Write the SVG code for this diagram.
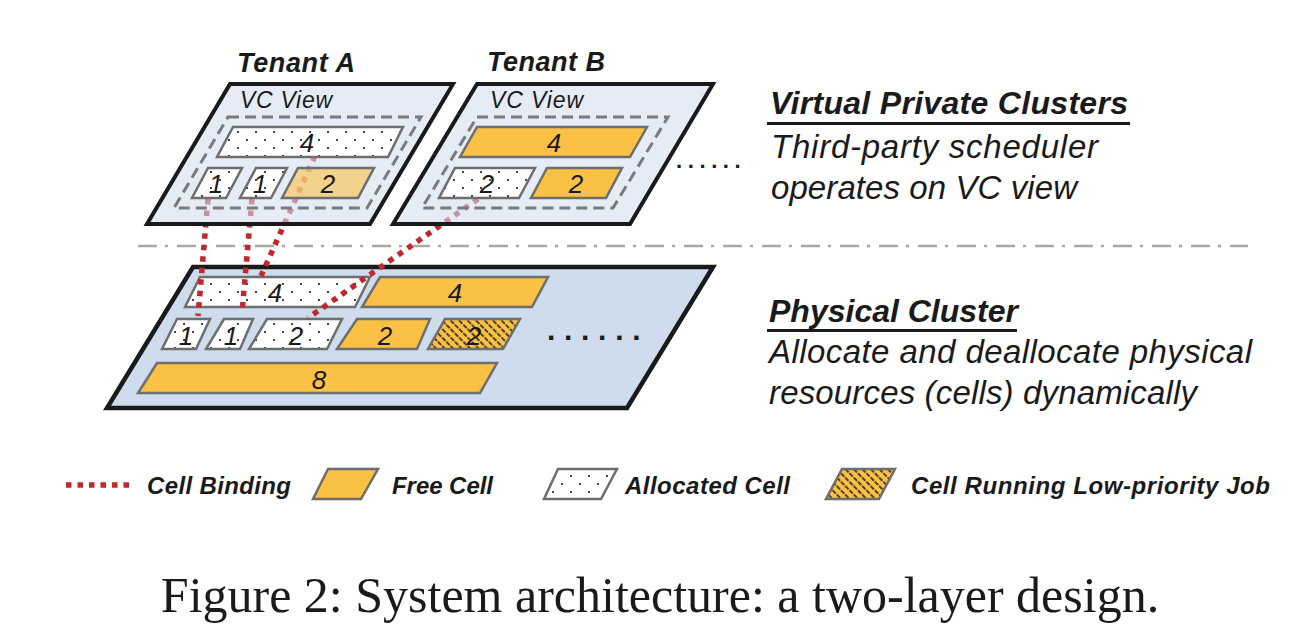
<svg xmlns="http://www.w3.org/2000/svg" width="1304" height="632" viewBox="0 0 1304 632">
<style>
.panel-top{fill:#D3DEF0;fill-opacity:0.58;stroke:#1a1a1a;stroke-width:4;stroke-linejoin:miter}
.panel-phys{fill:#CFDCEE;stroke:#1a1a1a;stroke-width:4.5}
.vc{fill:none;stroke:#7a7a7a;stroke-width:3;stroke-dasharray:11 6}
.free{fill:#FBC144;stroke:#6e6e6e;stroke-width:2.5}
.free-soft{fill:#FBC144;fill-opacity:0.6;stroke:#6e6e6e;stroke-width:2.5}
.alloc{fill:url(#dots);stroke:#6e6e6e;stroke-width:2.5}
.low{fill:url(#hatch);stroke:#6e6e6e;stroke-width:2.5}
.num{font-family:"Liberation Sans",Arial,sans-serif;font-style:italic;font-size:26px;fill:#1a1a1a;text-anchor:middle}
.tenant{font-family:"Liberation Sans",Arial,sans-serif;font-style:italic;font-weight:bold;font-size:27px;fill:#1a1a1a}
.vcl{font-family:"Liberation Sans",Arial,sans-serif;font-style:italic;font-size:23px;fill:#1a1a1a}
.head{font-family:"Liberation Sans",Arial,sans-serif;font-style:italic;font-weight:bold;font-size:32px;fill:#1a1a1a}
.desc{font-family:"Liberation Sans",Arial,sans-serif;font-style:italic;font-size:33px;fill:#1a1a1a}
.leg{font-family:"Liberation Sans",Arial,sans-serif;font-style:italic;font-weight:bold;font-size:24px;fill:#1a1a1a}
.bind{fill:none;stroke:#C1272D;stroke-width:5.5;stroke-dasharray:5.5 6}
.ell{font-family:"Liberation Sans",Arial,sans-serif;font-weight:bold;fill:#1a1a1a}
</style>
<defs>
<pattern id="dots" width="18" height="16" patternUnits="userSpaceOnUse">
<rect width="18" height="16" fill="#ffffff"/>
<circle cx="4" cy="4" r="1.1" fill="#1a1a1a"/>
<circle cx="13" cy="12" r="1.1" fill="#1a1a1a"/>
</pattern>
<pattern id="hatch" width="6" height="6" patternUnits="userSpaceOnUse" patternTransform="rotate(-45)">
<rect width="6" height="6" fill="#FBC144"/>
<line x1="2" y1="0" x2="2" y2="6" stroke="#222" stroke-width="1.6" stroke-dasharray="4 1.2"/>
</pattern>
</defs>

<line x1="138" y1="246" x2="1248" y2="246" stroke="#A8A8A8" stroke-width="2.5" stroke-dasharray="19 8 3 9"/>

<g id="physical-cluster">
<polygon class="panel-phys" points="193,267 713,267 627,408 107,408"/>
<g id="p-cell-4a"><polygon class="alloc" points="200,277 370,277 355,307 185,307"/><text class="num" x="275" y="302">4</text></g>
<g id="p-cell-4b"><polygon class="free" points="380,277 548,277 532,307 362,307"/><text class="num" x="455" y="302">4</text></g>
<g id="p-cell-1a"><polygon class="alloc" points="177,319 210,319 196,349 162,349"/><text class="num" x="186" y="345">1</text></g>
<g id="p-cell-1b"><polygon class="alloc" points="224,319 253,319 240,349 206,349"/><text class="num" x="231" y="345">1</text></g>
<g id="p-cell-2a"><polygon class="alloc" points="267,319 342,319 327,349 249,349"/><text class="num" x="296" y="345">2</text></g>
<g id="p-cell-2b"><polygon class="free" points="357,319 430,319 417,349 337,349"/><text class="num" x="385" y="345">2</text></g>
<g id="p-cell-2c"><polygon class="low" points="445,319 520,319 503,349 428,349"/><text class="num" x="474" y="345">2</text></g>
<g id="p-cell-8"><polygon class="free" points="157,363 497,363 480,393 138,393"/><text class="num" x="319" y="389">8</text></g>
<text class="ell" x="547" y="340" font-size="30" letter-spacing="8.7">......</text>
</g>

<g id="connectors">
<line class="bind" x1="208" y1="199" x2="198" y2="316"/>
<line class="bind" x1="252" y1="199" x2="242" y2="313"/>
<line class="bind" x1="315" y1="156" x2="261" y2="276"/>
<line class="bind" x1="478" y1="199" x2="308" y2="318"/>
</g>

<g id="tenant-a">
<text class="tenant" x="237" y="72" textLength="118">Tenant A</text>
<polygon class="panel-top" points="230,84 453,84 370,224 147,224"/>
<text class="vcl" x="240" y="108" textLength="92">VC View</text>
<polygon class="vc" points="228,117 421,117 367,208 174,208"/>
<g id="a-cell-4"><polygon class="alloc" points="233,127 403,127 388,157 217,157"/><text class="num" x="307" y="152">4</text></g>
<g id="a-cell-1a"><polygon class="alloc" points="208,168 242,168 226,198 192,198"/><text class="num" x="216" y="193">1</text></g>
<g id="a-cell-1b"><polygon class="alloc" points="256,168 287,168 271,198 240,198"/><text class="num" x="260" y="193">1</text></g>
<g id="a-cell-2"><polygon class="free-soft" points="298,168 374,168 358,198 282,198"/><text class="num" x="328" y="193">2</text></g>
</g>

<g id="tenant-b">
<text class="tenant" x="487" y="71" textLength="118">Tenant B</text>
<polygon class="panel-top" points="477,84 713,84 630,224 393,224"/>
<text class="vcl" x="490" y="108" textLength="93">VC View</text>
<polygon class="vc" points="477,117 668,117 613,208 422,208"/>
<g id="b-cell-4"><polygon class="free" points="477,127 647,127 630,157 460,157"/><text class="num" x="554" y="152">4</text></g>
<g id="b-cell-2a"><polygon class="alloc" points="455,168 535,168 519,198 439,198"/><text class="num" x="487" y="193">2</text></g>
<g id="b-cell-2b"><polygon class="free" points="547,168 622,168 606,198 531,198"/><text class="num" x="576" y="193">2</text></g>
<text class="ell" x="676" y="168" font-size="22" letter-spacing="5.6">......</text>
</g>

<g id="label-vpc">
<text class="head" x="770" y="114" textLength="358">Virtual Private Clusters</text>
<line x1="767" y1="123.5" x2="1130" y2="123.5" stroke="#1a1a1a" stroke-width="3"/>
<text class="desc" x="771" y="158" textLength="327">Third-party scheduler</text>
<text class="desc" x="771" y="199" textLength="306">operates on VC view</text>
</g>

<g id="label-physical">
<text class="head" x="769" y="322" textLength="249">Physical Cluster</text>
<line x1="767" y1="330.5" x2="1017" y2="330.5" stroke="#1a1a1a" stroke-width="3"/>
<text class="desc" x="769" y="363" textLength="483">Allocate and deallocate physical</text>
<text class="desc" x="769" y="404" textLength="428">resources (cells) dynamically</text>
</g>

<g id="legend">
<line class="bind" x1="66" y1="485" x2="130" y2="485" stroke-dasharray="5.5 5"/>
<text class="leg" x="147" y="494" textLength="144">Cell Binding</text>
<polygon class="free" points="328,469 378,469 361,499 313,499"/>
<text class="leg" x="392" y="494" textLength="101">Free Cell</text>
<polygon class="alloc" points="558,469 617,469 601,499 544,499"/>
<text class="leg" x="625" y="494" textLength="165">Allocated Cell</text>
<polygon class="low" points="842,469 895,469 879,499 826,499"/>
<text class="leg" x="911" y="494" textLength="359">Cell Running Low-priority Job</text>
</g>

<text x="660" y="612" font-family="'Liberation Serif','Times New Roman',serif" font-size="50" fill="#1a1a1a" text-anchor="middle">Figure 2: System architecture: a two-layer design.</text>
</svg>
